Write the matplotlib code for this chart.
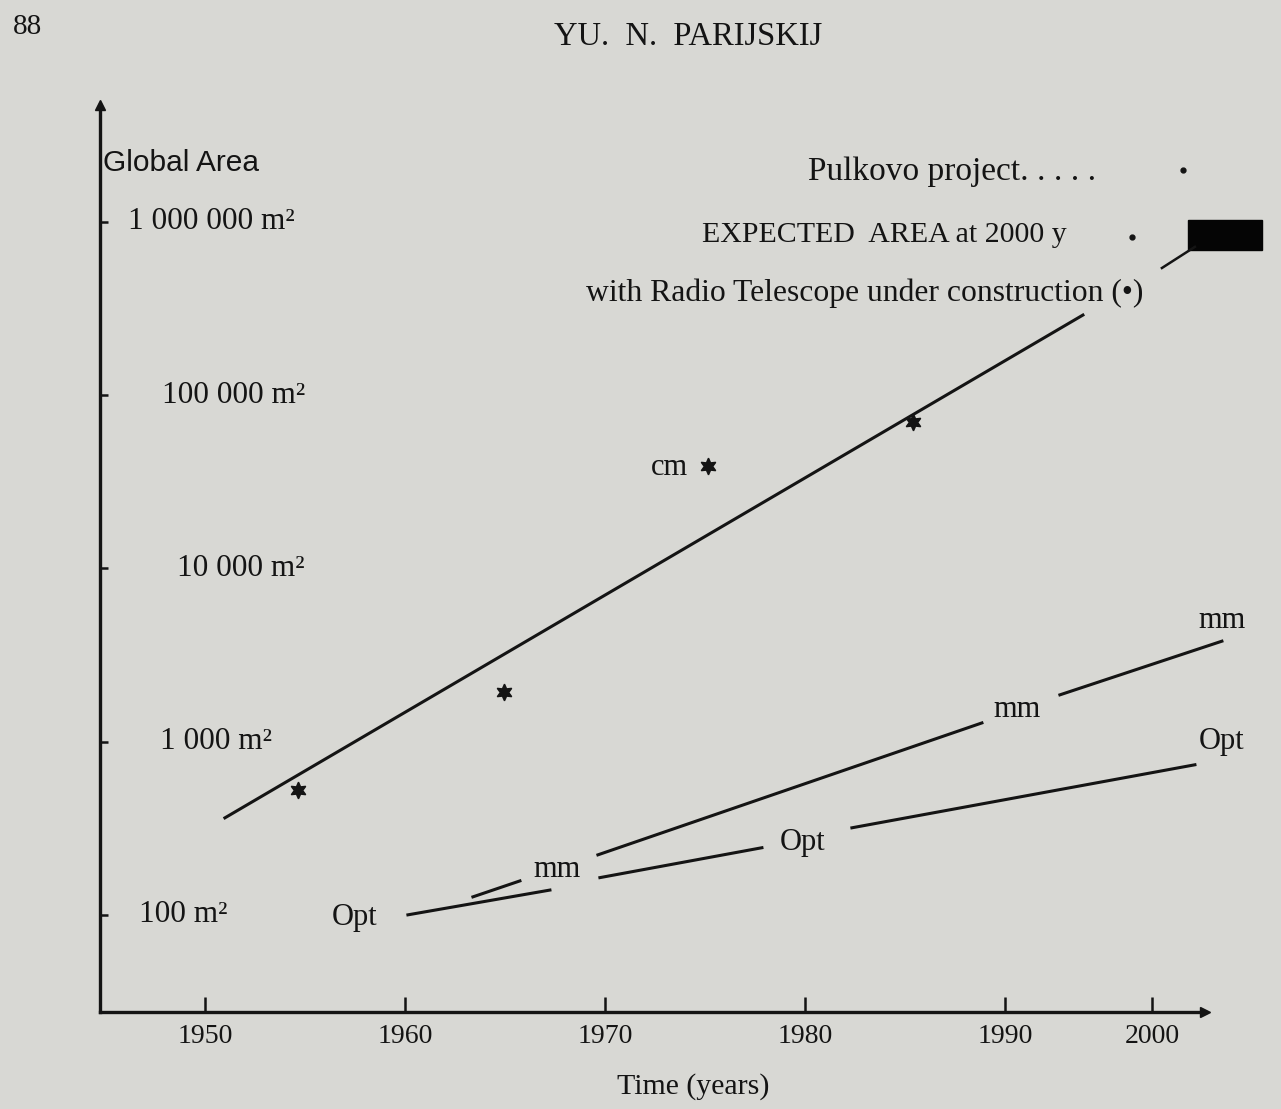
import matplotlib.pyplot as plt
from matplotlib.transforms import blended_transform_factory
from matplotlib.patches import Rectangle

plt.rcParams['font.family'] = ['Liberation Serif', 'DejaVu Serif']

# main trend (cm band), year vs global area in m^2
trend_years = [1951.0, 1993.9]
trend_area = [363, 290000]

# asterisk points
star_years = [1954.65, 1964.95, 1975.15, 1985.4]
star_area = [525, 1940, 38900, 70000]

# mm and optical segments
mm_years = [[1963.4, 1965.75], [1969.65, 1988.85], [1992.75, 2000.85]]
mm_area = [[127, 157], [222, 1282], [1862, 3800]]
opt_years = [[1960.15, 1967.25], [1969.75, 1977.85], [1982.35, 1999.5]]
opt_area = [[100, 139], [164, 244], [318, 735]]

# segment labels
seg_labels = ['Opt', 'mm', 'Opt', 'mm', 'Opt', 'mm', 'cm']
seg_label_years = [1957.5, 1967.6, 1979.9, 1990.6, 2000.85, 2000.85, 1973.25]
seg_label_area = [96, 182, 260, 1524, 997, 4980, 38000]

# Pulkovo project / expected area markers
pulkovo_year, pulkovo_area = 1998.9, 2.0e6
expected_year, expected_area = 1996.35, 8.2e5
box_years = [1999.15, 2002.85]
box_area = [6.9e5, 1.03e6]
leader_years = [1997.85, 1999.5]
leader_area = [5.42e5, 7.18e5]

year_ticks = [1950, 1960, 1970, 1980, 1990, 1997.35]  # "2000" is drawn short in the original
year_labels = ['1950', '1960', '1970', '1980', '1990', '2000']
area_ticks = [1e6, 1e5, 1e4, 1e3, 1e2]
area_labels = ['1 000 000 m²', '100 000 m²', '10 000 m²', '1 000 m²', '100 m²']
area_label_right = [0.176, 0.1855, 0.1855, 0.1557, 0.1158]

ink = '#141414'
paper = '#d8d8d4'

fig = plt.figure(figsize=(12.81, 11.09), dpi=100, facecolor=paper)
ax = fig.add_axes([0.078, 0.0875, 0.8626, 0.8178])
ax.set_facecolor('none')
ax.set_yscale('log')
ax.set_xlim(1944.75, 2000.0)
ax.set_ylim(27.5, 4.73e6)

for s in ['top', 'right']:
    ax.spines[s].set_visible(False)
for s in ['left', 'bottom']:
    ax.spines[s].set_linewidth(2.4)
    ax.spines[s].set_color(ink)
ax.plot(0, 1, marker='^', color=ink, ms=7, transform=ax.transAxes, clip_on=False)
ax.plot(1, 0, marker='>', color=ink, ms=7, transform=ax.transAxes, clip_on=False)

ax.set_xticks(year_ticks)
ax.set_xticklabels(year_labels)
ax.tick_params(axis='x', direction='in', length=11, width=1.8, color=ink,
               labelsize=20, labelcolor=ink, pad=9)
ax.set_yticks(area_ticks)
ax.set_yticklabels([])
ax.minorticks_off()
ax.tick_params(axis='y', direction='in', length=6, width=1.8, color=ink)

tr = blended_transform_factory(ax.transAxes, ax.transData)
for val, lab, xr in zip(area_ticks, area_labels, area_label_right):
    ax.text(xr, val, lab, transform=tr, ha='right', va='center',
            fontsize=22.5, color=ink)

ax.text(0.003, 0.936, 'Global Area', transform=ax.transAxes, ha='left',
        va='center', fontsize=21.5, color=ink, family=['Liberation Sans'])

# trend line and points
ax.plot(trend_years, trend_area, color=ink, lw=2.2)
ax.plot(star_years, star_area, ls='none', marker=(6, 1, 0), ms=12,
        color=ink)
for xs, ys in zip(mm_years, mm_area):
    ax.plot(xs, ys, color=ink, lw=2.2, clip_on=False)
for xs, ys in zip(opt_years, opt_area):
    ax.plot(xs, ys, color=ink, lw=2.2, clip_on=False)
for lab, x, y in zip(seg_labels, seg_label_years, seg_label_area):
    ax.text(x, y, lab, ha='center', va='center', fontsize=22, color=ink,
            clip_on=False)

# Pulkovo / expected area
ax.plot(pulkovo_year, pulkovo_area, marker='o', ms=3.5, color=ink, clip_on=False)
ax.plot(expected_year, expected_area, marker='o', ms=3.5, color=ink, clip_on=False)
ax.add_patch(Rectangle((box_years[0], box_area[0]), box_years[1] - box_years[0],
                       box_area[1] - box_area[0], color='#050505', clip_on=False))
ax.plot(leader_years, leader_area, color=ink, lw=1.8, clip_on=False)

ax.text(0.771, 0.926, 'Pulkovo project. . . . .', transform=ax.transAxes,
        ha='center', va='center', fontsize=24, color=ink)
ax.text(0.7095, 0.857, 'EXPECTED  AREA at 2000 y', transform=ax.transAxes,
        ha='center', va='center', fontsize=21.5, color=ink)
ax.text(0.692, 0.793, 'with Radio Telescope under construction (•)',
        transform=ax.transAxes, ha='center', va='center', fontsize=22.8, color=ink)

fig.text(693 / 1281, 1 - 1087 / 1109, 'Time (years)', ha='center', va='center',
         fontsize=21.5, color=ink)
fig.text(688 / 1281, 1 - 37 / 1109, 'YU.  N.  PARIJSKIJ', ha='center',
         va='center', fontsize=23.5, color=ink)
fig.text(27 / 1281, 1 - 27 / 1109, '88', ha='center', va='center',
         fontsize=21, color=ink)

fig.savefig('out.png', dpi=100, facecolor=paper)
